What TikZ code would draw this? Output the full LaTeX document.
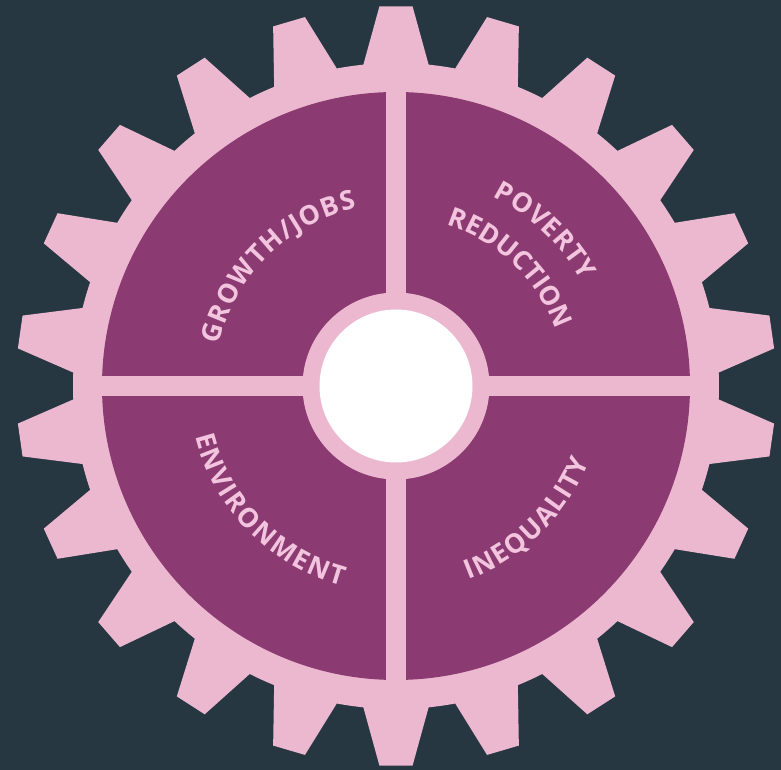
\documentclass[tikz,border=0pt]{standalone}
\usepackage{fontspec}
\setmainfont{Open Sans}
\usepackage{tikz}
\usetikzlibrary{decorations.text}
\definecolor{bgnavy}{RGB}{38,55,66}
\definecolor{gearpink}{RGB}{236,184,208}
\definecolor{quadpurple}{RGB}{140,58,114}
\definecolor{labelpink}{RGB}{242,196,222}
\newcommand{\labelfont}{\color{labelpink}\bfseries\fontsize{20}{24}\selectfont}
\tikzset{
  gear body/.style={fill=gearpink},
  quadrant/.style={fill=quadpurple},
  arc label/.style={
    decorate,
    decoration={text along path, text align={fit to path}, text={|\labelfont|#1}}
  }
}

\begin{document}
\begin{tikzpicture}[x=0.75pt,y=0.75pt]
%background, sets the size of the diagram
\fill[bgnavy] (-396,-384) rectangle (385,386);
\coordinate (hub) at (0,0);

%Shape: Gear, 22 teeth
\fill[gear body] (84.2:323)
  \foreach \k in {0,...,21}{
    -- ({90+\k*360/22-2.5}:380) -- ({90+\k*360/22+2.5}:380)
    -- ({90+\k*360/22+5.8}:323)
    arc[start angle={90+\k*360/22+5.8}, delta angle={360/22-11.6}, radius=323]
  } -- cycle;
%Shape: Disk with four quadrants
\fill[quadrant] (hub) circle[radius=294];
\fill[gear body] (-10,-300) rectangle (10,300);
\fill[gear body] (-300,-10) rectangle (300,10);
%Shape: Hub ring
\fill[gear body] (hub) circle[radius=93.5];
\fill[white] (hub) circle[radius=76.5];

% Text Node
\path[arc label={GROWTH/JOBS}] (167:182) arc[start angle=167, end angle=102.5, radius=182];
% Text Node
\path[arc label={POVERTY}] (63:213) arc[start angle=63, end angle=29.5, radius=213];
\path[arc label={REDUCTION}] (72.5:169) arc[start angle=72.5, end angle=20, radius=169];
% Text Node
\path[arc label={ENVIRONMENT}] (194:207) arc[start angle=194, end angle=255, radius=207];
% Text Node
\path[arc label={INEQUALITY}] (290.5:207) arc[start angle=290.5, end angle=338.5, radius=207];

\end{tikzpicture}
\end{document}
